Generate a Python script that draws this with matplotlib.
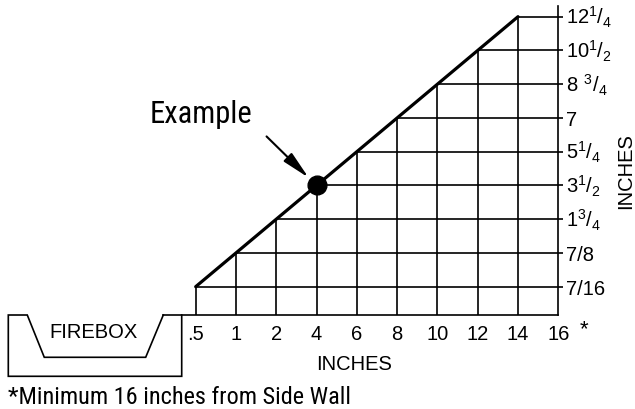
import matplotlib
matplotlib.use("Agg")
import matplotlib.pyplot as plt
from matplotlib import font_manager

# ---- data ----
clearance_labels = [".5", "1", "2", "4", "6", "8", "10", "12", "14", "16"]
clearance_values = [0.5, 1, 2, 4, 6, 8, 10, 12, 14, 16]
height_labels = ["7/16", "7/8", r"$\mathregular{1^{3}/_{4}}$", r"$\mathregular{3^{1}/_{2}}$",
                 r"$\mathregular{5^{1}/_{4}}$", "7", r"$\mathregular{8\ {}^{3}/_{4}}$",
                 r"$\mathregular{10^{1}/_{2}}$", r"$\mathregular{12^{1}/_{4}}$"]
height_values = [7/16, 7/8, 1.75, 3.5, 5.25, 7, 8.75, 10.5, 12.25]
example_clearance = 4
example_height = 3.5

names = {f.name for f in font_manager.fontManager.ttflist}
reg_font = "Liberation Sans" if "Liberation Sans" in names else "DejaVu Sans"
if "Roboto Condensed" in names:
    narrow = dict(family="Roboto Condensed")
elif "Archivo Narrow" in names:
    narrow = dict(family="Archivo Narrow")
else:
    narrow = dict(family="DejaVu Sans", stretch="condensed")
plt.rcParams["font.family"] = [reg_font, "DejaVu Sans"]

fig = plt.figure(figsize=(6.35, 4.10), dpi=100)
ax = fig.add_axes([0, 0, 1, 1])
ax.set_xlim(-4.857, 10.904)
ax.set_ylim(-3.624, 8.524)
ax.axis("off")

nx = len(clearance_values)
ny = len(height_values)
xr = nx - 1            # right border index
ybot = -0.839          # bottom line
ytop = ny - 1 + 0.317  # top of right border
lw = 1.2
k = "black"
tfs = 14.5

# vertical grid lines up to the diagonal
for j in range(nx - 1):
    ax.plot([j, j], [ybot, min(j, ny - 1)], color=k, lw=lw, solid_capstyle="butt")
# right border
ax.plot([xr, xr], [ybot, ytop], color=k, lw=lw)
# horizontal grid lines from the diagonal to right border + tick
for i in range(ny):
    ax.plot([i, xr + 0.12], [i, i], color=k, lw=lw, solid_capstyle="butt")
    ax.text(xr + 0.2, i - 0.21, height_labels[i], fontsize=tfs, va="baseline", ha="left")
# bottom line (joins firebox)
ax.plot([-0.804, xr], [ybot, ybot], color=k, lw=lw)
# diagonal
ax.plot(range(ny), range(ny), color=k, lw=2.3, solid_capstyle="round")

# x tick labels
for j, lab in enumerate(clearance_labels):
    ax.text(j, -1.54, lab, fontsize=tfs, ha="center", va="baseline")
ax.text(xr + 0.64, -1.25, "*", fontsize=16, ha="center", va="center")

# example point
ex = clearance_values.index(example_clearance)
ey = height_values.index(example_height)
ax.plot([ex], [ey], "o", color=k, ms=13.5)
ax.annotate("", xy=(ex, ey), xytext=(-50, 49), textcoords="offset pixels",
            arrowprops=dict(arrowstyle="-|>,head_length=1.7,head_width=0.35",
                            color=k, lw=1.5, shrinkA=0, shrinkB=8))
ax.text(-1.134, 4.88, "Example", fontsize=22, ha="left", va="baseline", **narrow)

# axis titles
ax.text(3.93, -2.44, "INCHES", fontsize=tfs, ha="center", va="baseline")
ax.text(10.68, 3.458, "INCHES", fontsize=tfs, ha="center", va="center", rotation=90)

# firebox drawing
fb_x = [-0.804, -1.241, -3.758, -4.180, -4.651, -4.651, -0.347, -0.347]
fb_y = [ybot, -2.092, -2.092, ybot, ybot, -2.655, -2.655, ybot]
ax.plot(fb_x, fb_y, color=k, lw=lw, solid_joinstyle="miter")
ax.text(-2.524, -1.313, "FIREBOX", fontsize=tfs, ha="center", va="center")

# footnote
ax.text(-4.657, -3.446, "*Minimum 16 inches from Side Wall", fontsize=17.5,
        ha="left", va="baseline", **narrow)

fig.savefig("out.png", dpi=100)
